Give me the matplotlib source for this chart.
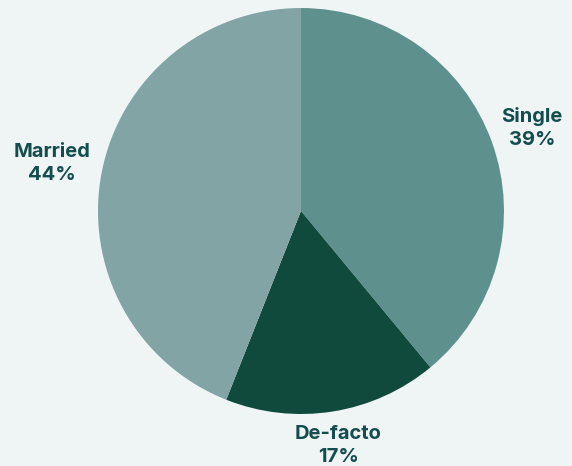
import matplotlib
matplotlib.use("Agg")
import matplotlib.pyplot as plt
import numpy as np

categories = ["Single", "De-facto", "Married"]
values = [39, 17, 44]
colors = ["#5e918d", "#0f4a3c", "#82a4a4"]
bg = "#eef5f4"
text_color = "#154c4e"
label_dist = [1.21, 1.17, 1.25]

fig = plt.figure(figsize=(5.72, 4.66), dpi=100, facecolor=bg)
ax = fig.add_axes([0.1713, 0.1116, 0.7098, 0.8712])
ax.set_facecolor(bg)
wedges, _ = ax.pie(values, colors=colors, startangle=90, counterclock=False,
                   wedgeprops=dict(linewidth=0))
for w, cat, v, d in zip(wedges, categories, values, label_dist):
    ang = np.deg2rad((w.theta1 + w.theta2) / 2)
    ax.text(d * np.cos(ang), d * np.sin(ang), f"{cat}\n{v}%", ha="center", va="center",
            fontsize=14.5, fontweight="bold", color=text_color, family=["Inter", "DejaVu Sans"],
            linespacing=1.35)
ax.set_xlim(-1, 1)
ax.set_ylim(-1, 1)
ax.set_aspect("equal")
ax.axis("off")
fig.savefig("out.png", dpi=100, facecolor=bg)
